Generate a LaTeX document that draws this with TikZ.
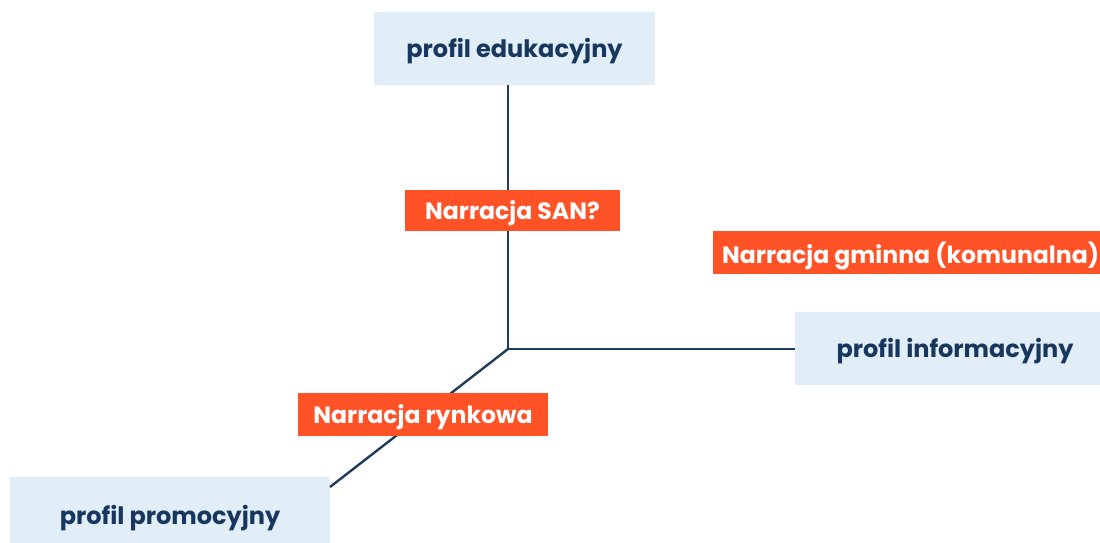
\documentclass[tikz,border=0pt]{standalone}
\usepackage{fontspec}
\setmainfont{Poppins}
\definecolor{boxblue}{HTML}{E1EDF7}
\definecolor{navy}{HTML}{17375E}
\definecolor{linec}{HTML}{1F3B5E}
\definecolor{orng}{HTML}{FF5226}
\newcommand{\lowtxt}[1]{\raisebox{-3pt}[\height][\depth]{#1}}
\begin{document}
\begin{tikzpicture}[x=1pt,y=-1pt,
  profil/.style={fill=boxblue, text=navy, font=\bfseries\fontsize{24}{28}\selectfont, inner sep=0pt, anchor=center},
  narr/.style={fill=orng, text=white, font=\bfseries\fontsize{23.6}{27}\selectfont, inner sep=0pt, anchor=center},
  conn/.style={draw=linec, line width=2.4pt}]
\useasboundingbox (0,0) rectangle (1100,543);
\node[profil, minimum width=281pt, minimum height=73pt] (edu) at (514.5,48.5) {\lowtxt{profil edukacyjny}};
\node[profil, minimum width=320pt, minimum height=73pt] (info) at (955,348.5) {\lowtxt{profil informacyjny}};
\node[profil, minimum width=320pt, minimum height=76pt] (promo) at (170,515) {\lowtxt{profil promocyjny}};
\coordinate (c) at (508,349);
\coordinate (pe) at (330,487);
\draw[conn] (edu.south -| c) -- (c) -- (info.west |- c);
\draw[conn] (c) -- (pe);
\node[narr, minimum width=215pt, minimum height=41pt] (san) at (512.5,210.5) {\lowtxt{Narracja SAN?}};
\node[narr, minimum width=250pt, minimum height=43pt] (rynek) at (423,414.5) {\lowtxt{Narracja rynkowa}};
\node[narr, minimum height=43pt, anchor=west, inner xsep=9pt] (gmina) at (713,252.5) {\lowtxt{Narracja gminna (komunalna)}};
\end{tikzpicture}
\end{document}
